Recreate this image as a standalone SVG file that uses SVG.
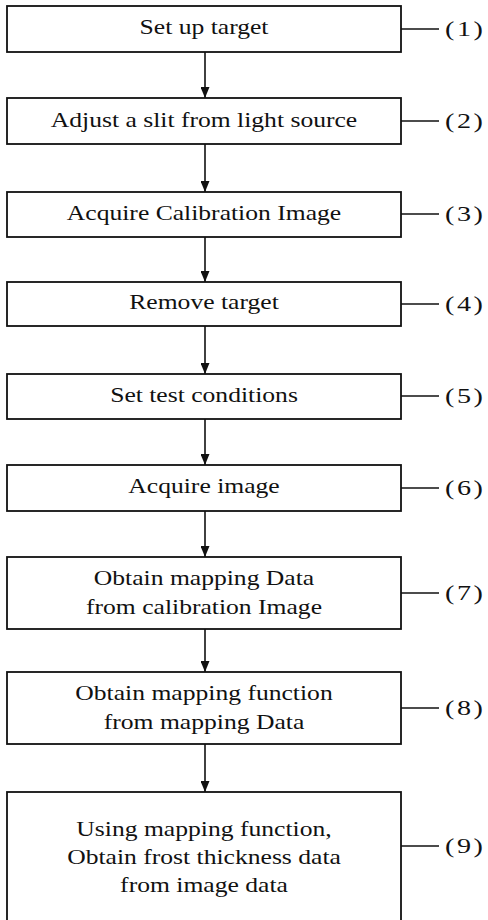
<svg xmlns="http://www.w3.org/2000/svg" width="488" height="920" viewBox="0 0 488 920">
  <defs>
    <style>
      .box { fill: #fff; stroke: #111; stroke-width: 1.8; }
      .tick { stroke: #111; stroke-width: 1.6; fill: none; }
      .flow { stroke: #111; stroke-width: 1.6; fill: none; }
      .t { font-family: "Liberation Serif", "Times New Roman", serif; font-size: 21px; fill: #111; text-anchor: middle; }
      .n { font-family: "Liberation Serif", "Times New Roman", serif; font-size: 22px; fill: #111; letter-spacing: 2px; }
    </style>
    <!-- filled arrowhead, tip on the end of the line -->
    <marker id="arrow" markerUnits="userSpaceOnUse" markerWidth="11" markerHeight="9" refX="11" refY="4.5" orient="auto" viewBox="0 0 11 9">
      <path d="M0,0 L11,4.5 L0,9 Z" fill="#111"/>
    </marker>
  </defs>
  <rect width="488" height="920" fill="#fff"/>

  <!-- connectors between steps -->
  <g id="connectors">
    <line class="flow" x1="205" y1="52" x2="205" y2="98" marker-end="url(#arrow)"/>
    <line class="flow" x1="205" y1="144" x2="205" y2="192" marker-end="url(#arrow)"/>
    <line class="flow" x1="205" y1="237" x2="205" y2="282" marker-end="url(#arrow)"/>
    <line class="flow" x1="205" y1="326" x2="205" y2="374" marker-end="url(#arrow)"/>
    <line class="flow" x1="205" y1="419" x2="205" y2="465" marker-end="url(#arrow)"/>
    <line class="flow" x1="205" y1="511" x2="205" y2="557" marker-end="url(#arrow)"/>
    <line class="flow" x1="205" y1="629" x2="205" y2="672" marker-end="url(#arrow)"/>
    <line class="flow" x1="205" y1="744" x2="205" y2="792" marker-end="url(#arrow)"/>
  </g>

  <g id="step1">
    <rect class="box" x="7" y="6" width="394" height="46"/>
    <text class="t" transform="translate(204,34) scale(1.22,1)">Set up target</text>
    <line class="tick" x1="401" y1="29" x2="439" y2="29"/>
    <text class="n" transform="translate(445,36) scale(1.28,1)">(1)</text>
  </g>

  <g id="step2">
    <rect class="box" x="7" y="98" width="394" height="46"/>
    <text class="t" transform="translate(204,127) scale(1.22,1)">Adjust a slit from light source</text>
    <line class="tick" x1="401" y1="121" x2="439" y2="121"/>
    <text class="n" transform="translate(445,128) scale(1.28,1)">(2)</text>
  </g>

  <g id="step3">
    <rect class="box" x="7" y="192" width="394" height="45"/>
    <text class="t" transform="translate(204,220) scale(1.22,1)">Acquire Calibration Image</text>
    <line class="tick" x1="401" y1="214" x2="439" y2="214"/>
    <text class="n" transform="translate(445,221) scale(1.28,1)">(3)</text>
  </g>

  <g id="step4">
    <rect class="box" x="7" y="282" width="394" height="44"/>
    <text class="t" transform="translate(204,309) scale(1.22,1)">Remove target</text>
    <line class="tick" x1="401" y1="304" x2="439" y2="304"/>
    <text class="n" transform="translate(445,311) scale(1.28,1)">(4)</text>
  </g>

  <g id="step5">
    <rect class="box" x="7" y="374" width="394" height="45"/>
    <text class="t" transform="translate(204,402) scale(1.22,1)">Set test conditions</text>
    <line class="tick" x1="401" y1="396" x2="439" y2="396"/>
    <text class="n" transform="translate(445,403) scale(1.28,1)">(5)</text>
  </g>

  <g id="step6">
    <rect class="box" x="7" y="465" width="394" height="46"/>
    <text class="t" transform="translate(204,493) scale(1.22,1)">Acquire image</text>
    <line class="tick" x1="401" y1="488" x2="439" y2="488"/>
    <text class="n" transform="translate(445,495) scale(1.28,1)">(6)</text>
  </g>

  <g id="step7">
    <rect class="box" x="7" y="557" width="394" height="72"/>
    <text class="t" transform="translate(204,585) scale(1.22,1)">Obtain mapping Data</text>
    <text class="t" transform="translate(204,614) scale(1.22,1)">from calibration Image</text>
    <line class="tick" x1="401" y1="593" x2="439" y2="593"/>
    <text class="n" transform="translate(445,600) scale(1.28,1)">(7)</text>
  </g>

  <g id="step8">
    <rect class="box" x="7" y="672" width="394" height="72"/>
    <text class="t" transform="translate(204,700) scale(1.22,1)">Obtain mapping function</text>
    <text class="t" transform="translate(204,729) scale(1.22,1)">from mapping Data</text>
    <line class="tick" x1="401" y1="708" x2="439" y2="708"/>
    <text class="n" transform="translate(445,715) scale(1.28,1)">(8)</text>
  </g>

  <!-- last step runs past the lower edge of the sheet -->
  <g id="step9">
    <rect class="box" x="7" y="792" width="394" height="140"/>
    <text class="t" transform="translate(204,836) scale(1.22,1)">Using mapping function,</text>
    <text class="t" transform="translate(204,864) scale(1.22,1)">Obtain frost thickness data</text>
    <text class="t" transform="translate(204,892) scale(1.22,1)">from image data</text>
    <line class="tick" x1="401" y1="846" x2="439" y2="846"/>
    <text class="n" transform="translate(445,853) scale(1.28,1)">(9)</text>
  </g>
</svg>
